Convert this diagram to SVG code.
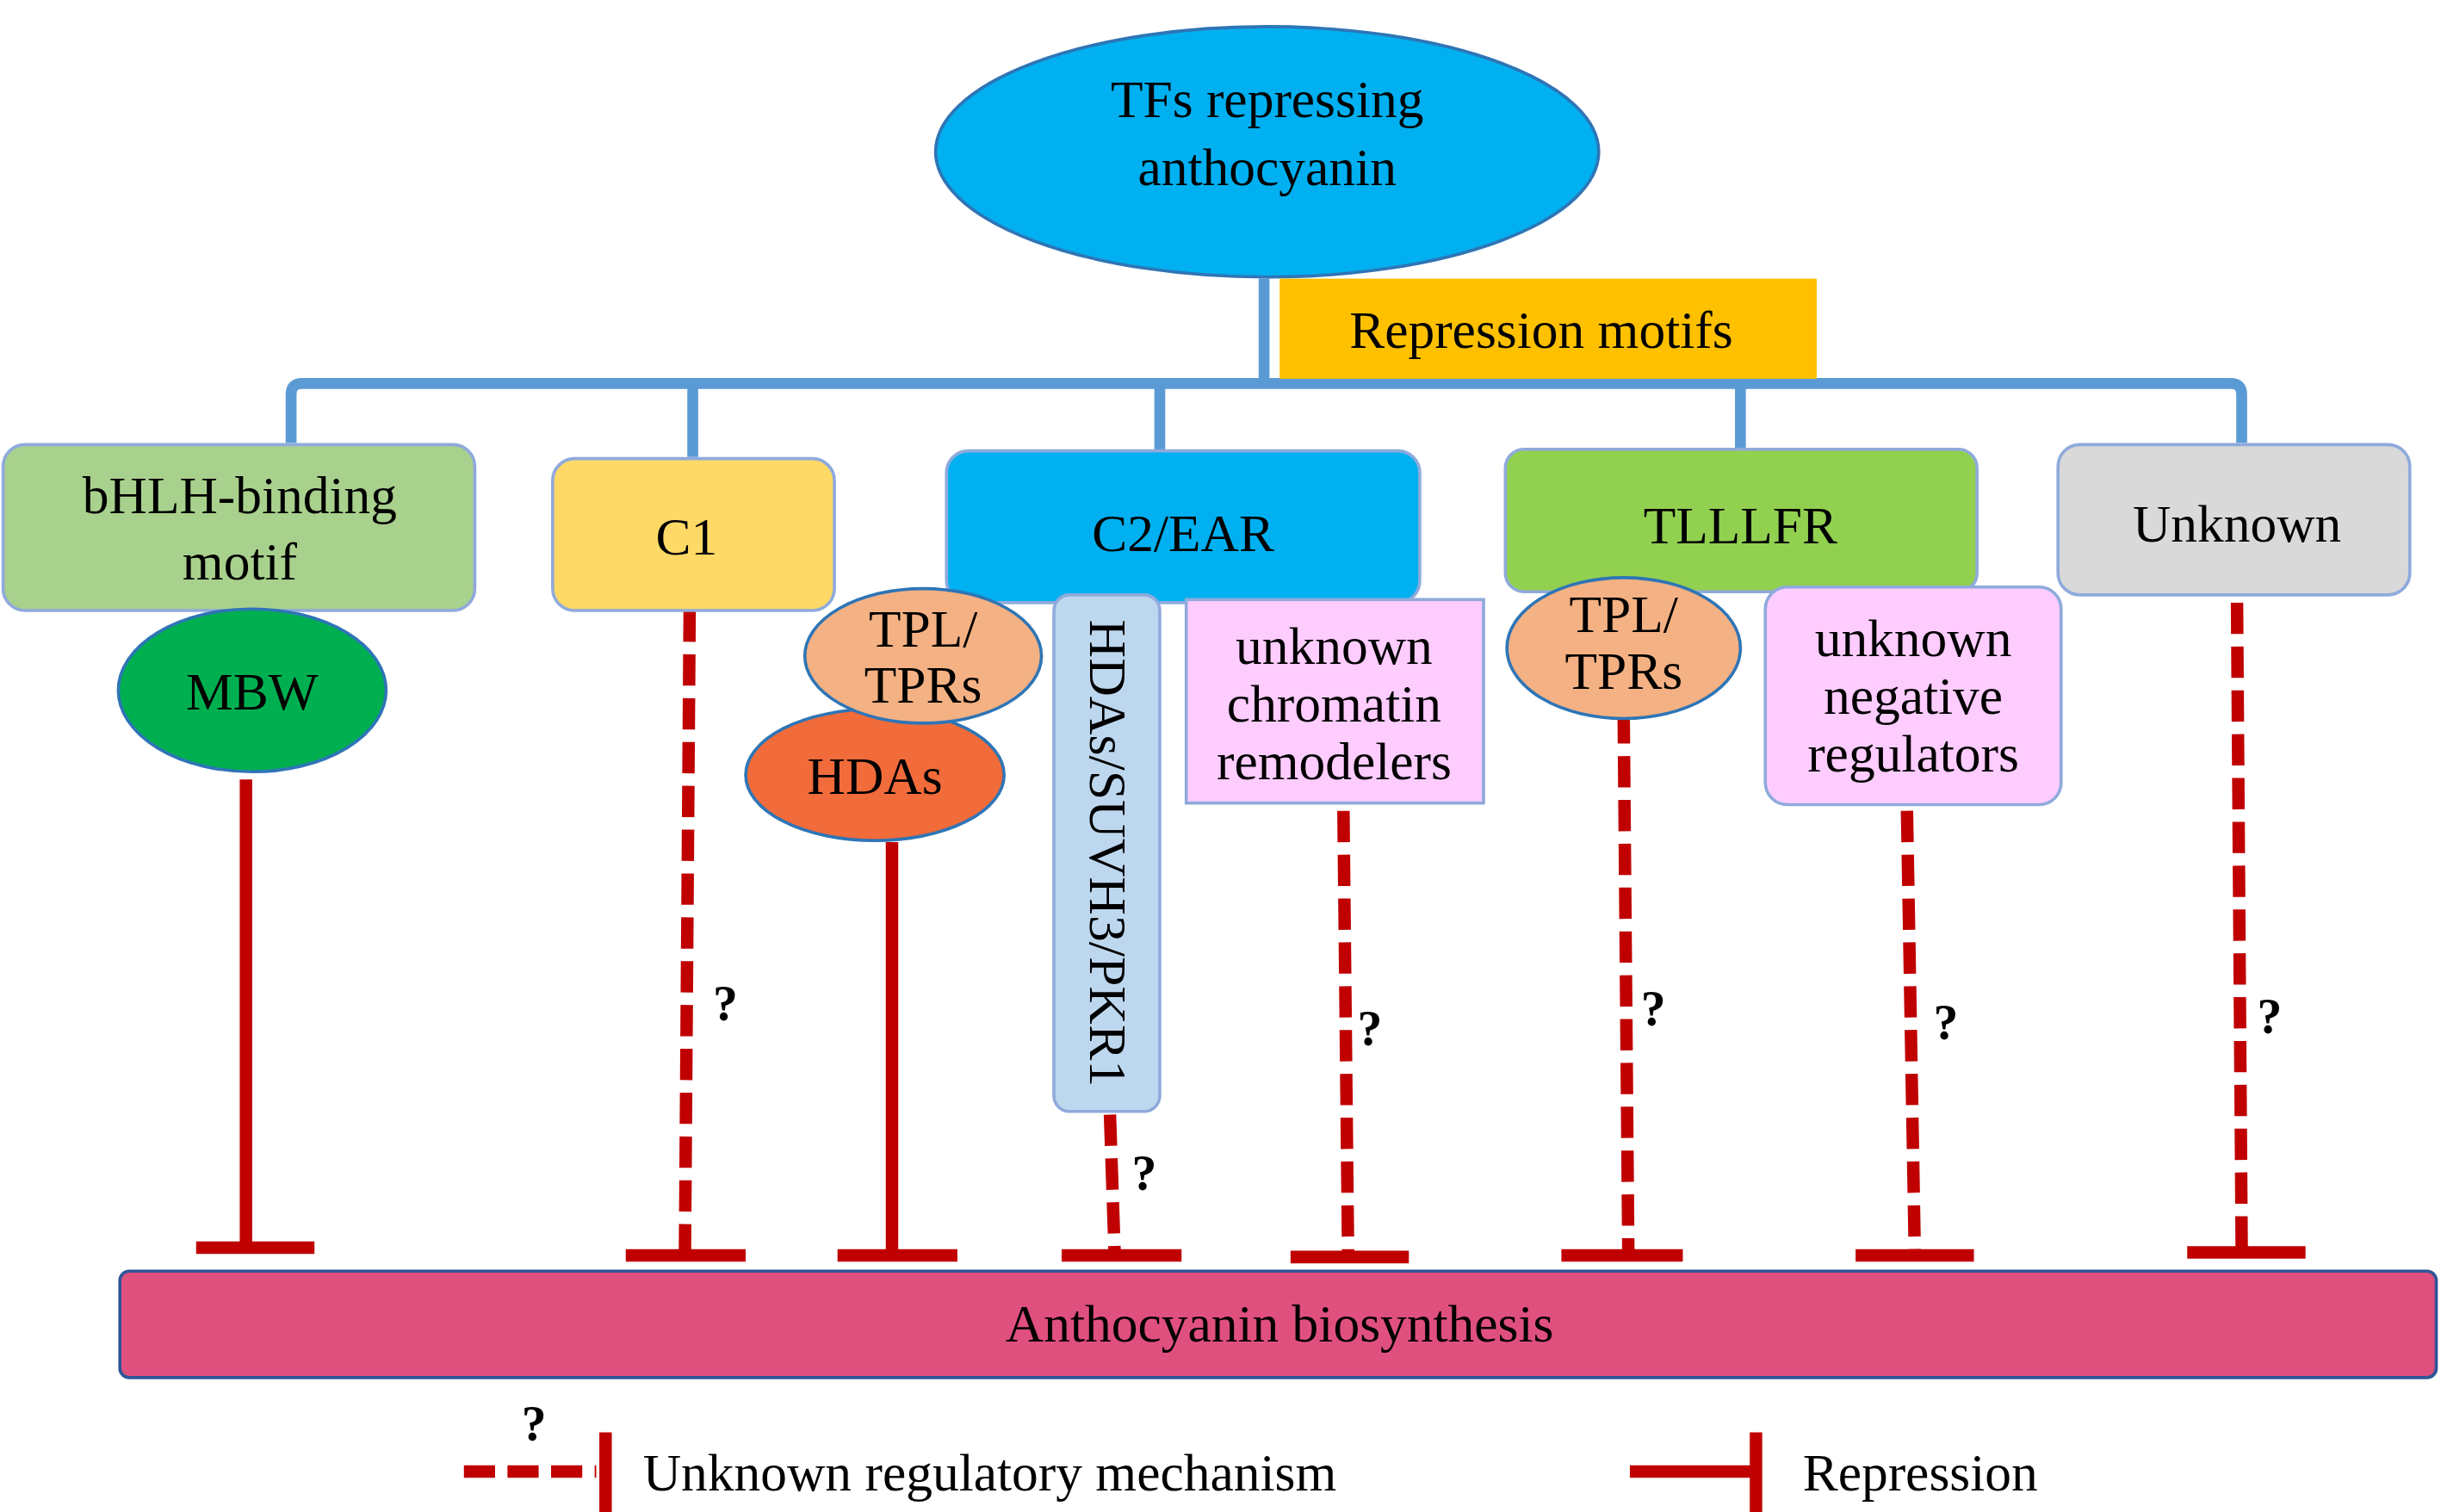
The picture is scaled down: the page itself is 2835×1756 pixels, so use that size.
<svg xmlns="http://www.w3.org/2000/svg" width="2835" height="1756" viewBox="0 0 2835 1756">
<style>
text{font-family:"Liberation Serif","Times New Roman",serif;font-size:34px;fill:#000;text-anchor:middle}
.q{font-size:32px;font-weight:bold}
.tree{stroke:#5b9bd5;stroke-width:7;fill:none}
.rs{stroke:#c00000;stroke-width:8;fill:none}
.rd{stroke:#c00000;stroke-width:8;fill:none;stroke-dasharray:20 8}
.box{stroke:#8faadc;stroke-width:2}
</style>
<rect width="2835" height="1756" fill="#fff"/>
<g transform="scale(1.808,1.818)">
<g id="connectors">
<path class="tree" d="M812 178V245M187 283V252Q187 245 194 245H1433Q1440 245 1440 252V283M445 245V292M745 245V292M1118 245V289"/>
<path class="rs" d="M158 498V797M126 797H202"/>
<path class="rd" d="M443 390L440 800"/><path class="rs" d="M402 802H479"/>
<path class="rs" d="M573 538V800M538 802H615"/>
<path class="rd" d="M713 712L716 800"/><path class="rs" d="M682 802H759"/>
<path class="rd" d="M863 518L866 802"/><path class="rs" d="M829 803H905"/>
<path class="rd" d="M1043 455L1046 800"/><path class="rs" d="M1003 802H1081"/>
<path class="rd" d="M1225 518L1230 800"/><path class="rs" d="M1192 802H1268"/>
<path class="rd" d="M1437 385L1440 798"/><path class="rs" d="M1405 800H1481"/>
<text class="q" x="466" y="652">?</text>
<text class="q" x="735" y="760">?</text>
<text class="q" x="880" y="668">?</text>
<text class="q" x="1062" y="655">?</text>
<text class="q" x="1250" y="664">?</text>
<text class="q" x="1458" y="660">?</text>
</g>
<g id="root"><ellipse cx="814" cy="97" rx="213" ry="80" fill="#00b0f0" stroke="#2e75b6" stroke-width="2"/><text x="814" y="75">TFs repressing</text><text x="814" y="118">anthocyanin</text></g>
<g id="motifs"><rect x="822" y="178" width="345" height="64" fill="#ffc000"/><text x="990" y="222">Repression motifs</text></g>
<g id="bhlh"><rect class="box" x="2" y="284" width="303" height="106" rx="14" fill="#a9d18e"/><text x="154" y="328">bHLH-binding</text><text x="154" y="370">motif</text></g>
<g id="c1"><rect class="box" x="355" y="293" width="181" height="97" rx="14" fill="#ffd966"/><text x="441" y="354">C1</text></g>
<g id="c2ear"><rect class="box" x="608" y="288" width="304" height="97" rx="14" fill="#00b0f0"/><text x="760" y="352">C2/EAR</text></g>
<g id="tlllfr"><rect class="box" x="967" y="287" width="303" height="91" rx="12" fill="#92d050"/><text x="1118" y="347">TLLLFR</text></g>
<g id="unknown"><rect class="box" x="1322" y="284" width="226" height="96" rx="14" fill="#d9d9d9"/><text x="1437" y="346">Unknown</text></g>
<g id="mbw"><ellipse cx="162" cy="441" rx="86" ry="52" fill="#00b050" stroke="#2e75b6" stroke-width="2"/><text x="162" y="453">MBW</text></g>
<g id="hdas"><ellipse cx="562" cy="495" rx="83" ry="42" fill="#f26b3a" stroke="#2e75b6" stroke-width="2"/><text x="562" y="507">HDAs</text></g>
<g id="tpl1"><ellipse cx="593" cy="419" rx="76" ry="43" fill="#f4b183" stroke="#2e75b6" stroke-width="2"/><text x="593" y="413">TPL/</text><text x="593" y="449">TPRs</text></g>
<g id="suvh"><rect class="box" x="677" y="380" width="68" height="330" rx="10" fill="#bdd7ee"/><text transform="translate(700 545) rotate(90)">HDAs/SUVH3/PKR1</text></g>
<g id="chromatin"><rect class="box" x="762" y="383" width="191" height="130" fill="#ffccff"/><text x="857" y="424">unknown</text><text x="857" y="461">chromatin</text><text x="857" y="498">remodelers</text></g>
<g id="tpl2"><ellipse cx="1043" cy="414" rx="75" ry="45" fill="#f4b183" stroke="#2e75b6" stroke-width="2"/><text x="1043" y="404">TPL/</text><text x="1043" y="440">TPRs</text></g>
<g id="negreg"><rect class="box" x="1134" y="375" width="190" height="139" rx="14" fill="#ffccff"/><text x="1229" y="419">unknown</text><text x="1229" y="456">negative</text><text x="1229" y="493">regulators</text></g>
<g id="biosynthesis"><rect x="77" y="812" width="1488" height="68" rx="6" fill="#e0507e" stroke="#2f5597" stroke-width="2"/><text x="822" y="857">Anthocyanin biosynthesis</text></g>
<g id="legend">
<path class="rd" d="M298 940H383" stroke-dasharray="10 5"/><path class="rs" d="M389 915V966"/>
<text class="q" x="343" y="920">?</text>
<text x="413" y="952" style="text-anchor:start">Unknown regulatory mechanism</text>
<path class="rs" d="M1047 940H1128M1128 915V966"/>
<text x="1158" y="952" style="text-anchor:start">Repression</text>
</g>
</g>
</svg>
